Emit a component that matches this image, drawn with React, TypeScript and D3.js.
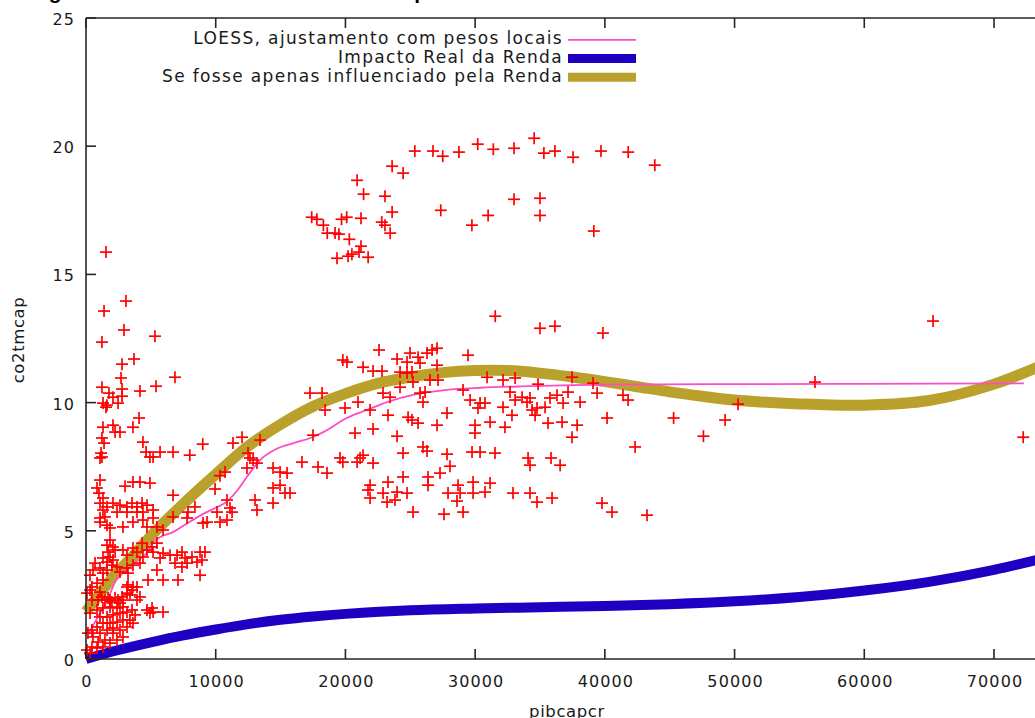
import React from 'react';
import * as d3 from 'd3';

// tick values
const X_TICKS = [0, 10000, 20000, 30000, 40000, 50000, 60000, 70000];
const Y_TICKS = [0, 5, 10, 15, 20, 25];

// pibcapcr x co2tmcap (observations)
const pontos: [number, number][] = [
  // upper group
  [17400, 17.23], [17800, 17.15], [18300, 16.92], [18600, 16.61], [19200, 16.61], [19500, 16.57],
  [19700, 17.15], [20100, 17.23], [20300, 16.37], [20500, 15.79], [20900, 18.67], [20200, 15.71],
  [19350, 15.63], [21200, 17.19], [21400, 18.13], [21200, 16.1], [21050, 15.87], [21750, 15.67],
  [22800, 17.04], [23050, 16.92], [23050, 18.05], [23450, 16.61], [23600, 17.43], [23600, 19.22],
  [24450, 18.95], [25350, 19.81], [26750, 19.81], [27500, 19.61], [27350, 17.5], [28750, 19.77],
  [29750, 16.92], [30200, 20.08], [31000, 17.3], [31400, 19.88], [31550, 13.37], [33000, 19.92],
  [33000, 17.93], [34550, 20.31], [35000, 17.97], [35000, 17.3], [35300, 19.73], [36150, 19.81],
  [37550, 19.57], [39150, 16.69], [39700, 19.81], [41800, 19.77], [43850, 19.26],
  [35000, 12.9], [36150, 12.98], [39850, 12.71],
  // middle group
  [19800, 11.66], [20120, 11.58], [22590, 12.05], [23980, 11.7], [24750, 11.58], [24980, 11.93],
  [25600, 11.77], [25750, 11.54], [26290, 11.93], [26680, 12.05], [27060, 12.12], [27060, 11.46],
  [25130, 11.19], [24750, 11.15], [24210, 11.19], [21360, 11.38], [22130, 11.23], [22820, 11.23],
  [29450, 11.85], [30920, 10.99], [32150, 10.88], [33080, 10.96], [34850, 10.72], [37470, 10.99],
  [39090, 10.76], [25210, 10.8], [26520, 10.88], [27140, 10.88], [22900, 10.37], [23440, 10.21],
  [24210, 10.6], [25750, 10.37], [25980, 10.02], [26140, 10.41], [29070, 10.49], [29610, 10.1],
  [30380, 9.98], [30760, 9.98], [30220, 9.79], [32150, 9.82], [32690, 10.41], [33080, 10.1],
  [33620, 10.21], [34000, 10.02], [34230, 10.18], [34770, 9.79], [34390, 9.71], [35390, 9.82],
  [35770, 10.18], [36310, 10.29], [36780, 9.98], [37160, 10.41], [38090, 10.02], [39400, 10.37],
  [41400, 10.29], [41790, 10.1], [20970, 10.02], [19970, 9.79], [21900, 9.71], [23280, 9.51],
  [24830, 9.43], [25130, 9.32], [25600, 9.2], [27830, 9.59], [27060, 9.12], [29990, 9.12],
  [29990, 8.81], [31150, 9.24], [32300, 9.04], [32840, 9.51], [34620, 9.51], [35620, 9.2],
  [36700, 9.24], [37860, 9.12], [37470, 8.65], [40170, 9.4], [20740, 8.81], [22130, 8.97],
  [23980, 8.69], [17270, 10.37], [18200, 10.37], [18430, 9.71], [17500, 8.73],
  // lower middle group
  [24440, 8.03], [25980, 8.27], [26290, 8.11], [27830, 7.99], [29760, 8.07], [30380, 8.07],
  [31530, 8.03], [19580, 7.84], [20900, 7.68], [21130, 7.84], [21360, 7.95], [22130, 7.64],
  [19800, 7.68], [28060, 7.52], [27290, 7.25], [34080, 7.84], [34230, 7.56], [35850, 7.84],
  [36550, 7.56], [42330, 8.27], [21900, 6.78], [21900, 6.28], [21740, 6.59], [23280, 6.9],
  [24440, 7.1], [22900, 6.47], [23980, 6.51], [23820, 6.2], [24750, 6.47], [23210, 6.12],
  [26370, 7.1], [26370, 6.78], [28680, 6.78], [29840, 6.9], [31150, 6.86], [28840, 6.47],
  [27910, 6.47], [29840, 6.47], [30760, 6.51], [28600, 6.16], [29070, 5.73], [25210, 5.73],
  [27600, 5.65], [32920, 6.47], [34230, 6.47], [34770, 6.12], [35930, 6.28], [39780, 6.08],
  [40550, 5.73], [43250, 5.61],
  // right, sparse
  [45300, 9.4], [47600, 8.69], [49270, 9.32], [50270, 9.94], [56200, 10.8], [65300, 13.18],
  [72250, 8.65],
  // 7000 - 19000
  [8000, 7.95], [9000, 8.38], [11330, 8.42], [12030, 8.65], [12490, 8.03], [12880, 7.76],
  [13420, 8.54], [10720, 7.29], [10330, 7.15], [12410, 7.45], [9950, 6.63], [8400, 5.93],
  [7860, 5.73], [13030, 6.2], [13180, 5.81], [14420, 6.08], [11100, 5.89], [11260, 5.73],
  [10100, 5.73], [14420, 7.45], [14960, 7.29], [15500, 7.25], [14960, 6.78], [15340, 6.47],
  [15730, 6.47], [16650, 7.68], [17890, 7.49], [18580, 7.25], [14420, 6.67], [13180, 7.64],
  [12640, 7.84], [7790, 5.5], [9020, 5.3], [10870, 6.2],
  // left, high
  [1540, 15.87], [3080, 13.96], [1390, 13.57], [2930, 12.83], [1230, 12.36], [5320, 12.59],
  [3700, 11.7], [2780, 11.5], [2700, 10.96], [6860, 10.99], [1230, 10.6], [2780, 10.53],
  [4160, 10.45], [5400, 10.64], [2780, 10.25], [1770, 10.37], [2080, 10.21], [1620, 9.9],
  [2470, 9.98], [1540, 9.82], [1310, 9.98], [1310, 9.04], [2080, 9.12], [2240, 8.85],
  [2620, 8.85], [3620, 9.04], [4090, 9.4], [1230, 8.62], [1390, 8.42], [1160, 8.03],
  [1230, 7.88], [4390, 8.46], [4630, 8.07], [4930, 7.88], [5170, 7.88], [5710, 8.07],
  [6710, 8.07], [1080, 7.84],
  // left, 5 - 7
  [1080, 6.98], [850, 6.67], [1000, 6.47], [1310, 6.28], [3010, 6.74], [3620, 6.9],
  [4160, 6.9], [4930, 6.86], [6710, 6.39], [1080, 6.08], [1620, 5.93], [1310, 5.81],
  [1460, 5.54], [1080, 5.5], [2080, 6.08], [2620, 6.0], [3160, 5.93], [3550, 6.08],
  [3930, 5.93], [4320, 6.08], [4700, 6.0], [5170, 5.81], [4390, 5.73], [3930, 5.73],
  [3160, 5.73], [2390, 5.73], [1080, 5.34], [1620, 5.22], [1850, 5.11], [2850, 5.15],
  [3620, 5.34], [4390, 5.42], [5170, 5.5], [5470, 5.15], [4700, 5.15], [6710, 5.54],
  [5940, 5.03], [10870, 5.42], [9330, 5.34], [10330, 5.34],
  // left, 3 - 5
  [1850, 4.64], [1620, 4.44], [2080, 4.37], [1700, 4.17], [2240, 4.25], [1850, 3.98],
  [1310, 3.94], [2080, 3.86], [1620, 3.78], [2850, 4.25], [3160, 4.05], [3620, 4.33],
  [3930, 4.17], [4320, 4.52], [4700, 4.25], [4390, 3.98], [5090, 4.37], [5170, 4.17],
  [5470, 4.52], [5710, 3.94], [5940, 4.13], [6480, 4.05], [7020, 4.05], [7400, 4.17],
  [7630, 3.94], [7790, 3.74], [7400, 3.59], [6860, 3.74], [8170, 3.98], [8560, 3.78],
  [8790, 4.17], [9170, 4.17], [8940, 3.86], [8790, 3.27], [7090, 3.08], [5940, 3.08],
  [5470, 3.47], [4780, 3.08], [1080, 3.55], [1310, 3.35], [1620, 3.47], [2000, 3.66],
  [2390, 3.59], [2620, 3.39], [3160, 3.55], [3240, 3.35], [3620, 3.66], [4160, 3.74],
  [310, 3.27], [540, 3.47], [700, 3.74],
  // near the origin
  [3160, 2.81], [3550, 2.69], [3930, 2.81], [3390, 2.5], [2850, 2.3], [2620, 2.18],
  [2240, 2.38], [1850, 2.3], [1080, 2.61], [850, 2.96], [1310, 3.08], [460, 2.81],
  [4700, 1.91], [5090, 1.99], [5170, 1.83], [4930, 1.79], [5940, 1.83],
  [80, 2.57], [310, 2.69], [460, 2.3], [930, 2.3], [1230, 2.42], [1460, 2.3], [1700, 2.38],
  [2000, 2.22], [2470, 2.3], [2780, 2.42], [3160, 2.57], [3620, 2.81], [3240, 2.89],
  [3930, 2.3], [4160, 2.42], [2850, 2.03], [2390, 1.99], [1850, 2.03], [1310, 1.99],
  [850, 1.91], [310, 1.79], [1080, 1.64], [1620, 1.64], [2080, 1.72], [2620, 1.79],
  [3160, 1.83], [3550, 1.91], [3780, 1.72], [3390, 1.52], [2850, 1.52], [2390, 1.44],
  [1850, 1.4], [1310, 1.4], [850, 1.25], [460, 1.13], [150, 1.01], [540, 0.86],
  [1080, 1.01], [1620, 1.13], [2080, 1.21], [2620, 1.13], [3160, 1.25], [3620, 1.4],
  [2080, 1.01], [1460, 0.74], [930, 0.66], [460, 0.47], [80, 0.35], [310, 0.23],
  [850, 0.43], [1310, 0.47], [1850, 0.62], [2390, 0.74], [2850, 0.86],
];

// LOESS, ajustamento com pesos locais
const loessX = [150, 1080, 1700, 2100, 2500, 3200, 4000, 4700, 5100, 5700, 6700, 8000, 9000, 10000,
  10900, 11700, 12400, 13400, 14700, 16000, 17300, 18300, 20100, 21700, 23200, 25200, 27800, 30400,
  34200, 40000, 50000, 60000, 72300];
const loessY = [0.95, 1.8, 2.35, 2.85, 3.25, 3.5, 3.85, 4.15, 4.5, 4.75, 4.95, 5.35, 5.65, 5.9,
  6.15, 6.6, 7.1, 7.75, 8.2, 8.42, 8.62, 8.85, 9.4, 9.72, 10.02, 10.3, 10.5, 10.58,
  10.64, 10.7, 10.72, 10.73, 10.75];

// Impacto Real da Renda
const realX = [0, 2500, 5000, 7500, 10000, 12500, 15000, 17500, 20000, 25000, 30000, 35000, 40000,
  45000, 50000, 55000, 60000, 65000, 70000, 75000];
const realY = [0, 0.35, 0.65, 0.92, 1.15, 1.36, 1.53, 1.66, 1.76, 1.9, 1.97, 2.02, 2.07,
  2.14, 2.25, 2.42, 2.67, 3.01, 3.48, 4.08];

// Se fosse apenas influenciado pela Renda
const rendaX = [0, 1000, 2000, 3500, 5000, 7500, 10000, 12500, 15000, 17500, 20000, 22500, 25000,
  27500, 30000, 32500, 35000, 37500, 40000, 42500, 45000, 47500, 50000, 55000, 60000, 65000, 70000, 75000];
const rendaY = [1.85, 2.5, 3.15, 3.95, 4.8, 6.05, 7.2, 8.3, 9.15, 9.85, 10.35, 10.75, 11.0,
  11.17, 11.25, 11.25, 11.15, 11.0, 10.82, 10.62, 10.42, 10.25, 10.1, 9.95, 9.9, 10.08, 10.72, 11.75];

const series = [
  { label: 'LOESS, ajustamento com pesos locais', color: '#ff4cc6', width: 1.8 },
  { label: 'Impacto Real da Renda', color: '#1e00c2', width: 10 },
  { label: 'Se fosse apenas influenciado pela Renda', color: '#b9a12c', width: 11 },
];

export default function App() {
  const W = 1035;
  const H = 718;
  const left = 86;
  const top = 18;
  const bottom = 659;
  const pxPerUnit = 908 / 70000;

  const x = d3.scaleLinear().domain([0, 80000]).range([left, left + 80000 * pxPerUnit]);
  const y = d3.scaleLinear().domain([0, 25]).range([bottom, top]);
  const right = x(80000);

  const line = d3.line<[number, number]>()
    .x(d => x(d[0]))
    .y(d => y(d[1]))
    .curve(d3.curveMonotoneX);

  const smooth = d3.line<[number, number]>()
    .x(d => x(d[0]))
    .y(d => y(d[1]))
    .curve(d3.curveCatmullRom.alpha(0.5));

  const loessPath = line(loessX.map((v, i) => [v, loessY[i]] as [number, number])) || '';
  const realPath = smooth(realX.map((v, i) => [v, realY[i]] as [number, number])) || '';
  const rendaPath = smooth(rendaX.map((v, i) => [v, rendaY[i]] as [number, number])) || '';

  const axisColor = '#262626';
  const font = "'DejaVu Sans', Verdana, sans-serif";
  const tickLen = 10;
  const arm = 6;

  return (
    <div style={{ position: 'absolute', left: 0, top: 0, background: '#fff' }}>
      <svg width={W} height={H} style={{ display: 'block', overflow: 'hidden' }}>
        <rect x={0} y={0} width={W} height={H} fill="#fff" />

        {/* title, cut off by the top edge as in the source picture */}
        <text x={30} y={-1} fontFamily="'Liberation Sans', Arial, sans-serif" fontWeight="bold"
          fontSize={21} fill="#000">
          Figura 1: Curva Ambiental de Kuznets para o carbono
        </text>

        {/* curves */}
        <path d={rendaPath} fill="none" stroke={series[2].color} strokeWidth={series[2].width} />
        <path d={realPath} fill="none" stroke={series[1].color} strokeWidth={series[1].width} />
        <path d={loessPath} fill="none" stroke={series[0].color} strokeWidth={series[0].width} />

        {/* points */}
        <g stroke="#ff0000" strokeWidth={1.7}>
          {pontos.map((p, i) => {
            const cx = x(p[0]);
            const cy = y(p[1]);
            return (
              <g key={i}>
                <line x1={cx - arm} x2={cx + arm} y1={cy} y2={cy} />
                <line x1={cx} x2={cx} y1={cy - arm} y2={cy + arm} />
              </g>
            );
          })}
        </g>

        {/* frame */}
        <g stroke={axisColor} strokeWidth={1.6} fill="none">
          <line x1={left} x2={left} y1={top} y2={bottom} />
          <line x1={left} x2={right} y1={bottom} y2={bottom} />
          <line x1={left} x2={right} y1={top} y2={top} />
          {X_TICKS.map(t => (
            <g key={t}>
              <line x1={x(t)} x2={x(t)} y1={bottom} y2={bottom - tickLen} />
              <line x1={x(t)} x2={x(t)} y1={top} y2={top + tickLen} />
            </g>
          ))}
          {Y_TICKS.map(t => (
            <line key={t} x1={left} x2={left + tickLen} y1={y(t)} y2={y(t)} />
          ))}
        </g>

        {/* tick labels */}
        <g fontFamily={font} fontSize={16} fill="#1a1a1a" letterSpacing={1.1}>
          {X_TICKS.map(t => (
            <text key={t} x={x(t) + 1} y={687} textAnchor="middle">{t}</text>
          ))}
          {Y_TICKS.map(t => (
            <text key={t} x={75} y={y(t) + 7} textAnchor="end">{t}</text>
          ))}
        </g>

        {/* axis titles */}
        <text x={567} y={717} textAnchor="middle" fontFamily={font} fontSize={16.5} fill="#1a1a1a"
          letterSpacing={0.6}>pibcapcr</text>
        <text transform={`translate(24,340) rotate(-90)`} textAnchor="middle" fontFamily={font}
          fontSize={16.5} fill="#1a1a1a" letterSpacing={0.6}>co2tmcap</text>

        {/* legend */}
        <g fontFamily={font} fontSize={17} fill="#1a1a1a" letterSpacing={1.35}>
          {series.map((s, i) => {
            const base = 44.3 + i * 18.7;
            return (
              <g key={s.label}>
                <text x={563} y={base} textAnchor="end">{s.label}</text>
                <line x1={568} x2={636} y1={base - 4.5} y2={base - 4.5} stroke={s.color}
                  strokeWidth={i === 0 ? 1.8 : 9} />
              </g>
            );
          })}
        </g>
      </svg>
    </div>
  );
}
